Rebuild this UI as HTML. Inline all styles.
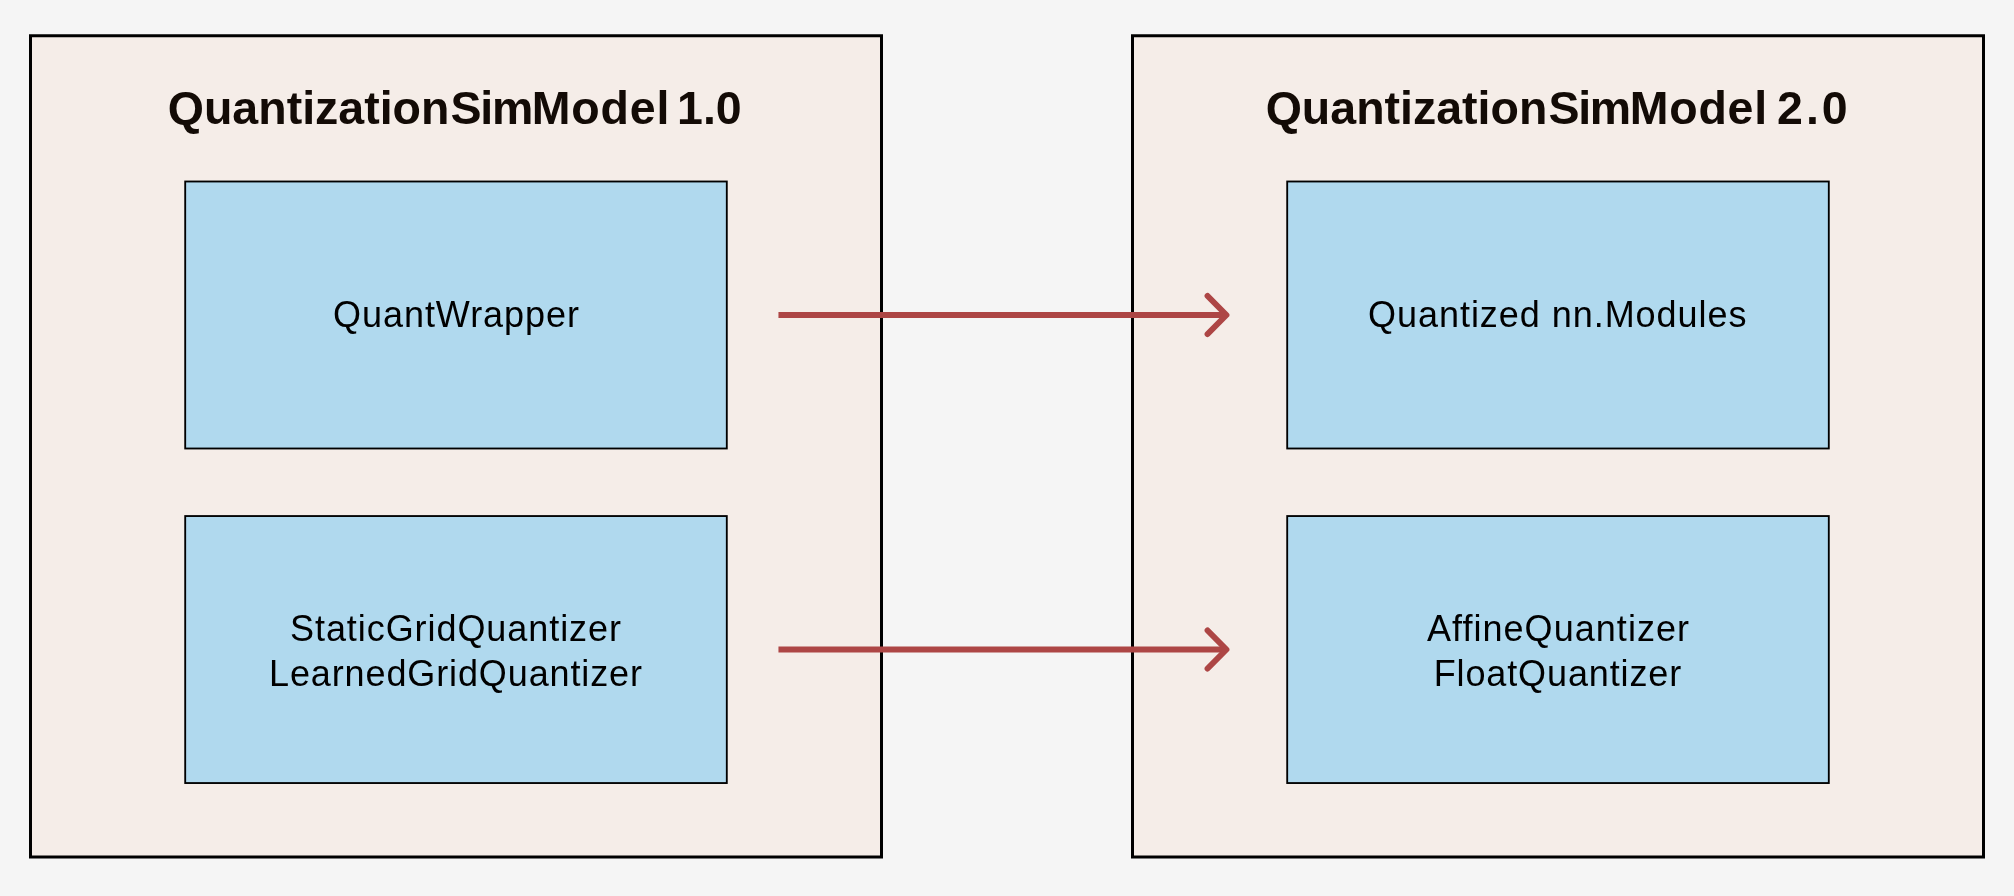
<!DOCTYPE html>
<html lang="en">
<head>
<meta charset="utf-8">
<title>QuantizationSimModel 1.0 to 2.0</title>
<style>
  html, body { margin: 0; padding: 0; background: #f5f5f5; }
  body { width: 2014px; height: 896px; overflow: hidden; }
  svg { display: block; will-change: transform; }
  svg text { font-family: "Liberation Sans", sans-serif; }
  .panel { fill: #f5ede8; stroke: #000; stroke-width: 3; }
  .blk { fill: #b0d9ee; stroke: #000; stroke-width: 1.85; }
  .title { font-weight: bold; font-size: 46.5px; fill: #130b06; }
  .lbl { font-size: 36px; fill: #000; }
  .arrow { fill: none; stroke: #ad4645; stroke-width: 6; }
  .head { stroke-linecap: round; stroke-linejoin: round; }
</style>
</head>
<body>
  <svg width="2014" height="896" viewBox="0 0 2014 896" role="img" aria-label="QuantizationSimModel 1.0 to 2.0 mapping">
    <rect width="2014" height="896" fill="#f5f5f5"/>

    <!-- QuantizationSimModel 1.0 -->
    <g id="sim1">
      <rect class="panel" x="30.5" y="35.75" width="851" height="821.25"/>
      <text id="t1" class="title" y="123.9"><tspan x="167.8" textLength="281.6" lengthAdjust="spacing">Quantization</tspan><tspan x="450.5" textLength="82.8" lengthAdjust="spacing">Sim</tspan><tspan x="531.8" textLength="137.5" lengthAdjust="spacing">Model</tspan><tspan> </tspan><tspan x="677.1" textLength="64.6" lengthAdjust="spacing">1.0</tspan></text>
      <rect class="blk" x="185.2" y="181.5" width="541.6" height="267"/>
      <text id="l1" class="lbl" x="333" y="327.1" textLength="246" lengthAdjust="spacing">QuantWrapper</text>
      <rect class="blk" x="185.2" y="516.05" width="541.6" height="267"/>
      <text id="l2" class="lbl" x="290" y="640.5" textLength="331" lengthAdjust="spacing">StaticGridQuantizer</text>
      <text id="l3" class="lbl" x="269" y="685.6" textLength="373" lengthAdjust="spacing">LearnedGridQuantizer</text>
    </g>

    <!-- QuantizationSimModel 2.0 -->
    <g id="sim2">
      <rect class="panel" x="1132.5" y="35.75" width="851" height="821.25"/>
      <text id="t2" class="title" y="123.9"><tspan x="1265.7" textLength="281.6" lengthAdjust="spacing">Quantization</tspan><tspan x="1548.4" textLength="82.8" lengthAdjust="spacing">Sim</tspan><tspan x="1629.7" textLength="137.5" lengthAdjust="spacing">Model</tspan><tspan> </tspan><tspan x="1777.1" textLength="70.6" lengthAdjust="spacing">2.0</tspan></text>
      <rect class="blk" x="1287.2" y="181.5" width="541.6" height="267"/>
      <text id="l4" class="lbl" x="1368" y="327.1" textLength="378.5" lengthAdjust="spacing">Quantized nn.Modules</text>
      <rect class="blk" x="1287.2" y="516.05" width="541.6" height="267"/>
      <text id="l5" class="lbl" x="1427" y="640.5" textLength="262" lengthAdjust="spacing">AffineQuantizer</text>
      <text id="l6" class="lbl" x="1433.7" y="685.6" textLength="247.5" lengthAdjust="spacing">FloatQuantizer</text>
    </g>

    <!-- arrows -->
    <g class="arrow">
      <path d="M778.45 315 H1226"/>
      <path class="head" d="M1207.6 296 L1226.4 315 L1207.6 334"/>
      <path d="M778.45 649.5 H1226"/>
      <path class="head" d="M1207.6 630.5 L1226.4 649.5 L1207.6 668.5"/>
    </g>
  </svg>
</body>
</html>
